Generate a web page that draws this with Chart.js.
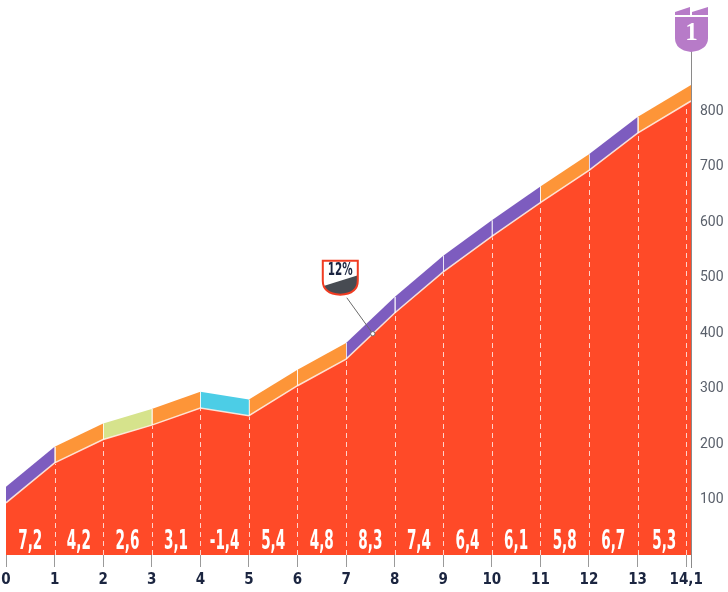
<!DOCTYPE html>
<html>
<head>
<meta charset="utf-8">
<script src="https://cdn.jsdelivr.net/npm/chart.js@4.4.0/dist/chart.umd.min.js"></script>
<style>
  html, body { margin: 0; padding: 0; background: #fff; }
  #wrap { width: 728px; height: 592px; }
</style>
</head>
<body>
<div id="wrap"><canvas id="profile"></canvas></div>
<script>
// km markers of the profile and altitude (m) at each of them
const distances = [0, 1, 2, 3, 4, 5, 6, 7, 8, 9, 10, 11, 12, 13, 14.1];
const elevations = [94, 166, 208, 234, 265, 251, 305, 353, 436, 510, 574, 635, 693, 760, 818];
// average gradient (%) of each segment
const gradients = [7.2, 4.2, 2.6, 3.1, -1.4, 5.4, 4.8, 8.3, 7.4, 6.4, 6.1, 5.8, 6.7, 5.3];

const kmTicks = [0, 1, 2, 3, 4, 5, 6, 7, 8, 9, 10, 11, 12, 13, 14];
const kmLabels = ["0", "1", "2", "3", "4", "5", "6", "7", "8", "9", "10", "11", "12", "13", "14,1"];
const altTicks = [100, 200, 300, 400, 500, 600, 700, 800];

// steepest point callout and finish marker
const steepKm = 7.55;
const steepLabel = "12%";
const finishLabel = "1";

const bandDepth = 29;
const narrow = "'Liberation Sans Narrow', 'DejaVu Sans Condensed', 'Arial Narrow', sans-serif";

const gradColor = (g) => {
  if (g < 0) return "#4ccde6";
  if (g < 3) return "#d6e38c";
  if (g < 6) return "#fd9538";
  return "#7d5cbf";
};

const elevAt = (km) => {
  for (let i = 1; i < distances.length; i++) {
    if (km <= distances[i]) {
      const t = (km - distances[i - 1]) / (distances[i] - distances[i - 1]);
      return elevations[i - 1] + t * (elevations[i] - elevations[i - 1]);
    }
  }
  return elevations[elevations.length - 1];
};

const datasets = [
  {
    data: distances.map((d, i) => ({ x: d, y: elevations[i] })),
    fill: "origin",
    backgroundColor: "#ff4a28",
    borderColor: "rgba(255,238,228,0.9)",
    borderWidth: 1.5,
    pointRadius: 0,
    tension: 0,
    order: 0,
  },
];

for (let i = 0; i < gradients.length; i++) {
  datasets.push({
    data: [
      { x: distances[i], y: elevations[i] + bandDepth },
      { x: distances[i + 1], y: elevations[i + 1] + bandDepth },
    ],
    fill: "origin",
    backgroundColor: gradColor(gradients[i]),
    borderWidth: 0,
    pointRadius: 0,
    order: 1,
  });
}

const profileMarks = {
  id: "profileMarks",
  afterDatasetsDraw(chart) {
    const { ctx, scales: { x, y } } = chart;
    const base = y.getPixelForValue(0);
    ctx.save();
    ctx.strokeStyle = "rgba(255,255,255,0.75)";
    ctx.lineWidth = 1;

    // dashed km lines
    ctx.setLineDash([5, 4]);
    kmTicks.forEach((km) => {
      if (km === 0) return;
      const px = Math.round(x.getPixelForValue(km)) + 0.5;
      ctx.beginPath();
      ctx.moveTo(px, base);
      ctx.lineTo(px, y.getPixelForValue(elevAt(km)) + 1);
      ctx.stroke();
    });
    ctx.setLineDash([]);

    // separators in the coloured band
    for (let i = 1; i < distances.length - 1; i++) {
      const px = Math.round(x.getPixelForValue(distances[i])) + 0.5;
      ctx.beginPath();
      ctx.moveTo(px, y.getPixelForValue(elevations[i]));
      ctx.lineTo(px, y.getPixelForValue(elevations[i] + bandDepth));
      ctx.stroke();
    }

    // gradient labels
    ctx.fillStyle = "#fff";
    ctx.font = "bold 27px " + narrow;
    ctx.textAlign = "center";
    ctx.textBaseline = "alphabetic";
    gradients.forEach((g, i) => {
      const cx = x.getPixelForValue((distances[i] + distances[i + 1]) / 2);
      ctx.save();
      ctx.translate(cx, base - 6);
      ctx.scale(0.56, 1);
      ctx.fillText(g.toFixed(1).replace(".", ","), 0, 0);
      ctx.restore();
    });
    ctx.restore();
  },
  afterDraw(chart) {
    const { ctx, scales: { x, y } } = chart;
    const base = y.getPixelForValue(0);
    const endX = Math.round(x.getPixelForValue(distances[distances.length - 1])) + 0.5;
    ctx.save();

    // finish line
    ctx.strokeStyle = "#8a8a8a";
    ctx.lineWidth = 1;
    ctx.beginPath();
    ctx.moveTo(endX, 50);
    ctx.lineTo(endX, base + 13);
    ctx.stroke();

    // finish marker
    const fx = endX - 0.5;
    ctx.fillStyle = "#b77bc8";
    ctx.beginPath();
    ctx.moveTo(fx - 16, 15);
    ctx.lineTo(fx - 16, 12);
    ctx.lineTo(fx - 1, 7);
    ctx.lineTo(fx - 1, 15);
    ctx.closePath();
    ctx.fill();
    ctx.beginPath();
    ctx.moveTo(fx + 1, 15);
    ctx.lineTo(fx + 1, 12);
    ctx.lineTo(fx + 17, 7);
    ctx.lineTo(fx + 17, 15);
    ctx.closePath();
    ctx.fill();
    ctx.beginPath();
    ctx.moveTo(fx - 16, 17);
    ctx.lineTo(fx + 17, 17);
    ctx.lineTo(fx + 17, 38);
    ctx.quadraticCurveTo(fx + 17, 50, fx, 52);
    ctx.quadraticCurveTo(fx - 16, 50, fx - 16, 38);
    ctx.closePath();
    ctx.fill();
    ctx.fillStyle = "#fff";
    ctx.font = "bold 25px 'Liberation Serif', 'DejaVu Serif', serif";
    ctx.textAlign = "center";
    ctx.textBaseline = "middle";
    ctx.fillText(finishLabel, fx + 0.5, 34);

    // steepest point callout
    const ax = x.getPixelForValue(steepKm);
    const ay = y.getPixelForValue(elevAt(steepKm));
    const sx = ax - 50;
    const sy = ay - 73;
    const sw = 35;
    ctx.strokeStyle = "#6b6b6b";
    ctx.lineWidth = 1;
    ctx.beginPath();
    ctx.moveTo(sx + 24, sy + 37);
    ctx.lineTo(ax, ay);
    ctx.stroke();
    ctx.fillStyle = "#fff";
    ctx.beginPath();
    ctx.arc(ax, ay, 2.2, 0, Math.PI * 2);
    ctx.fill();
    ctx.stroke();

    const shield = () => {
      ctx.beginPath();
      ctx.moveTo(sx, sy);
      ctx.lineTo(sx + sw, sy);
      ctx.lineTo(sx + sw, sy + 20);
      ctx.quadraticCurveTo(sx + sw, sy + 33, sx + sw / 2, sy + 34);
      ctx.quadraticCurveTo(sx, sy + 33, sx, sy + 20);
      ctx.closePath();
    };
    shield();
    ctx.fillStyle = "#fff";
    ctx.fill();
    ctx.save();
    shield();
    ctx.clip();
    ctx.fillStyle = "#474b52";
    ctx.beginPath();
    ctx.moveTo(sx - 2, sy + 26);
    ctx.lineTo(sx + sw + 2, sy + 14);
    ctx.lineTo(sx + sw + 2, sy + 40);
    ctx.lineTo(sx - 2, sy + 40);
    ctx.closePath();
    ctx.fill();
    ctx.restore();
    shield();
    ctx.strokeStyle = "#f03c22";
    ctx.lineWidth = 2;
    ctx.stroke();

    ctx.fillStyle = "#1b2540";
    ctx.font = "bold 17px " + narrow;
    ctx.textAlign = "center";
    ctx.textBaseline = "middle";
    ctx.save();
    ctx.translate(sx + sw / 2, sy + 10);
    ctx.scale(0.68, 1);
    ctx.fillText(steepLabel, 0, 0);
    ctx.restore();

    ctx.restore();
  },
};

new Chart(document.getElementById("profile"), {
  type: "line",
  data: { datasets },
  options: {
    responsive: true,
    maintainAspectRatio: false,
    animation: false,
    layout: { padding: { left: 6, right: 0, top: 0, bottom: 0 } },
    plugins: {
      legend: { display: false },
      tooltip: { enabled: false },
    },
    scales: {
      x: {
        type: "linear",
        min: 0,
        max: 14.1,
        afterBuildTicks: (scale) => {
          scale.ticks = kmTicks.map((v) => ({ value: v }));
        },
        afterFit: (scale) => {
          scale.height = 37;
          scale.paddingLeft = 0;
          scale.paddingRight = 0;
        },
        ticks: {
          autoSkip: false,
          maxRotation: 0,
          padding: 4,
          color: "#1b2540",
          font: { family: narrow, size: 15, weight: "bold" },
          callback: (v, i) => kmLabels[i],
        },
        grid: {
          drawOnChartArea: false,
          drawTicks: true,
          tickLength: 12,
          color: "#9a9a9a",
        },
        border: { display: false },
      },
      y: {
        position: "right",
        min: 0,
        max: 1000,
        afterBuildTicks: (scale) => {
          scale.ticks = altTicks.map((v) => ({ value: v }));
        },
        afterFit: (scale) => {
          scale.width = 37;
          scale.paddingTop = 0;
          scale.paddingBottom = 0;
        },
        ticks: {
          padding: 9,
          color: "#5a606b",
          font: { family: "Roboto", size: 14 },
        },
        grid: { display: false, drawTicks: false },
        border: { display: false },
      },
    },
  },
  plugins: [profileMarks],
});
</script>
</body>
</html>
